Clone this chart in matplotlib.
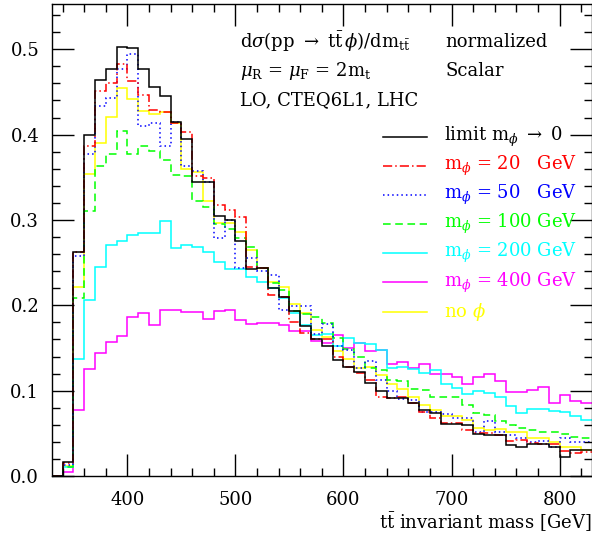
import numpy as np
import matplotlib
matplotlib.use("Agg")
import matplotlib.pyplot as plt

plt.rcParams['font.family'] = ['DejaVu Serif']
plt.rcParams['mathtext.fontset'] = 'dejavuserif'

# bin edges in GeV (10 GeV bins)
edges = np.arange(330, 840, 10)

# normalized d(sigma)/dm_tt per bin
limit0 = [0, 0.016, 0.263, 0.399, 0.464, 0.477, 0.503, 0.501, 0.477, 0.456,
          0.445, 0.415, 0.395, 0.344, 0.344, 0.305, 0.300, 0.275, 0.242, 0.244,
          0.220, 0.210, 0.193, 0.176, 0.161, 0.152, 0.136, 0.128, 0.122, 0.109,
          0.100, 0.091, 0.091, 0.085, 0.077, 0.074, 0.061, 0.061, 0.060, 0.049,
          0.048, 0.048, 0.036, 0.034, 0.038, 0.038, 0.034, 0.022, 0.030, 0.030]
m20 = [0, 0.015, 0.262, 0.387, 0.451, 0.461, 0.483, 0.463, 0.446, 0.429,
       0.426, 0.413, 0.403, 0.351, 0.349, 0.317, 0.312, 0.304, 0.245, 0.244,
       0.212, 0.210, 0.180, 0.168, 0.160, 0.161, 0.140, 0.128, 0.121, 0.113,
       0.092, 0.091, 0.092, 0.085, 0.075, 0.068, 0.062, 0.062, 0.054, 0.050,
       0.050, 0.048, 0.041, 0.042, 0.039, 0.038, 0.038, 0.029, 0.027, 0.028]
m50 = [0, 0.013, 0.258, 0.377, 0.434, 0.443, 0.477, 0.495, 0.410, 0.414,
       0.387, 0.415, 0.363, 0.357, 0.344, 0.279, 0.300, 0.244, 0.255, 0.240,
       0.235, 0.195, 0.199, 0.199, 0.166, 0.178, 0.152, 0.148, 0.126, 0.135,
       0.113, 0.100, 0.090, 0.089, 0.075, 0.075, 0.073, 0.068, 0.068, 0.052,
       0.065, 0.051, 0.048, 0.045, 0.040, 0.041, 0.034, 0.044, 0.040, 0.040]
m100 = [0, 0.011, 0.208, 0.311, 0.363, 0.377, 0.404, 0.377, 0.387, 0.381,
        0.370, 0.353, 0.351, 0.322, 0.315, 0.295, 0.289, 0.279, 0.268, 0.244,
        0.226, 0.218, 0.193, 0.190, 0.186, 0.179, 0.162, 0.149, 0.139, 0.127,
        0.124, 0.113, 0.111, 0.102, 0.101, 0.093, 0.093, 0.093, 0.083, 0.074,
        0.072, 0.064, 0.060, 0.056, 0.054, 0.052, 0.051, 0.049, 0.046, 0.044]
m200 = [0, 0.010, 0.137, 0.206, 0.245, 0.271, 0.275, 0.282, 0.285, 0.285,
        0.299, 0.267, 0.271, 0.268, 0.262, 0.251, 0.242, 0.243, 0.233, 0.227,
        0.220, 0.208, 0.191, 0.177, 0.165, 0.166, 0.152, 0.162, 0.156, 0.155,
        0.148, 0.127, 0.128, 0.125, 0.121, 0.124, 0.108, 0.103, 0.096, 0.100,
        0.097, 0.093, 0.082, 0.074, 0.078, 0.078, 0.076, 0.075, 0.070, 0.066]
m400 = [0, 0.005, 0.077, 0.125, 0.144, 0.157, 0.164, 0.186, 0.191, 0.177,
        0.195, 0.195, 0.192, 0.192, 0.184, 0.193, 0.195, 0.183, 0.178, 0.179,
        0.179, 0.177, 0.170, 0.170, 0.158, 0.156, 0.165, 0.150, 0.156, 0.147,
        0.148, 0.131, 0.133, 0.127, 0.131, 0.120, 0.120, 0.116, 0.108, 0.116,
        0.119, 0.111, 0.098, 0.099, 0.101, 0.104, 0.086, 0.095, 0.088, 0.085]
nophi = [0, 0.012, 0.222, 0.354, 0.390, 0.421, 0.455, 0.442, 0.428, 0.424,
         0.426, 0.413, 0.360, 0.356, 0.322, 0.297, 0.296, 0.286, 0.265, 0.244,
         0.227, 0.221, 0.201, 0.191, 0.171, 0.163, 0.146, 0.137, 0.127, 0.128,
         0.118, 0.108, 0.102, 0.092, 0.083, 0.077, 0.070, 0.070, 0.066, 0.056,
         0.054, 0.055, 0.051, 0.052, 0.044, 0.044, 0.040, 0.034, 0.034, 0.031]

labels = [r'limit m$_\phi$ $\rightarrow$ 0',
          r'm$_\phi$ = 20   GeV',
          r'm$_\phi$ = 50   GeV',
          r'm$_\phi$ = 100 GeV',
          r'm$_\phi$ = 200 GeV',
          r'm$_\phi$ = 400 GeV',
          r'no $\phi$']
series = [limit0, m20, m50, m100, m200, m400, nophi]
colors = ['black', '#ff0000', '#0000ff', '#00ff00', '#00ffff', '#ff00ff', '#ffff00']
styles = ['-', (0, (6, 2, 1, 2)), (0, (1, 2)), (0, (5, 3)), '-', '-', '-']

fig = plt.figure(figsize=(5.92, 5.37), dpi=100)
ax = fig.add_axes([51.7 / 592, 1 - 476 / 537, 540.3 / 592, 472 / 537])

# draw in reverse so the black curve ends on top
for vals, c, ls in reversed(list(zip(series, colors, styles))):
    ax.stairs(vals, edges, color=c, linestyle=ls, linewidth=1.1, baseline=None)

ax.set_xlim(330, 830)
ax.set_ylim(0, 0.553)
ax.set_xticks(np.arange(400, 801, 100))
ax.set_xticks(np.arange(340, 830, 20), minor=True)
ax.set_yticks(np.arange(0, 0.51, 0.1))
ax.set_yticks(np.arange(0, 0.553, 0.02), minor=True)
ax.yaxis.set_major_formatter(matplotlib.ticker.FormatStrFormatter('%.1f'))
ax.tick_params(which='both', direction='in', top=True, right=True, labelsize=13, width=1)
ax.tick_params(which='major', length=16, pad=9)
ax.tick_params(which='minor', length=6)
ax.tick_params(axis='x', which='major', pad=11)
for s in ax.spines.values():
    s.set_linewidth(1)

ax.set_xlabel(r'$\mathrm{t\bar{t}}$ invariant mass [GeV]', fontsize=13, loc='right', labelpad=1)

# header text
ax.text(0.3485, 0.919, r'd$\sigma$(pp $\rightarrow$ t$\bar{\mathrm{t}}\,\phi$)/dm$_{\mathrm{t\bar{t}}}$',
        transform=ax.transAxes, fontsize=13, va='center')
ax.text(0.728, 0.919, 'normalized', transform=ax.transAxes, fontsize=13, va='center')
ax.text(0.3485, 0.858, r'$\mu_\mathrm{R}$ = $\mu_\mathrm{F}$ = 2m$_\mathrm{t}$',
        transform=ax.transAxes, fontsize=13, va='center')
ax.text(0.728, 0.858, 'Scalar', transform=ax.transAxes, fontsize=13, va='center')
ax.text(0.3485, 0.797, 'LO, CTEQ6L1, LHC', transform=ax.transAxes, fontsize=13, va='center')

# key
key_y = 0.719
for lab, c, ls in zip(labels, colors, styles):
    ax.plot([0.613, 0.695], [key_y, key_y], transform=ax.transAxes, color=c,
            linestyle=ls, linewidth=1.1)
    ax.text(0.726, key_y, lab, transform=ax.transAxes, fontsize=13, va='center', color=c)
    key_y -= 0.0618

fig.savefig('out.png', dpi=100)
